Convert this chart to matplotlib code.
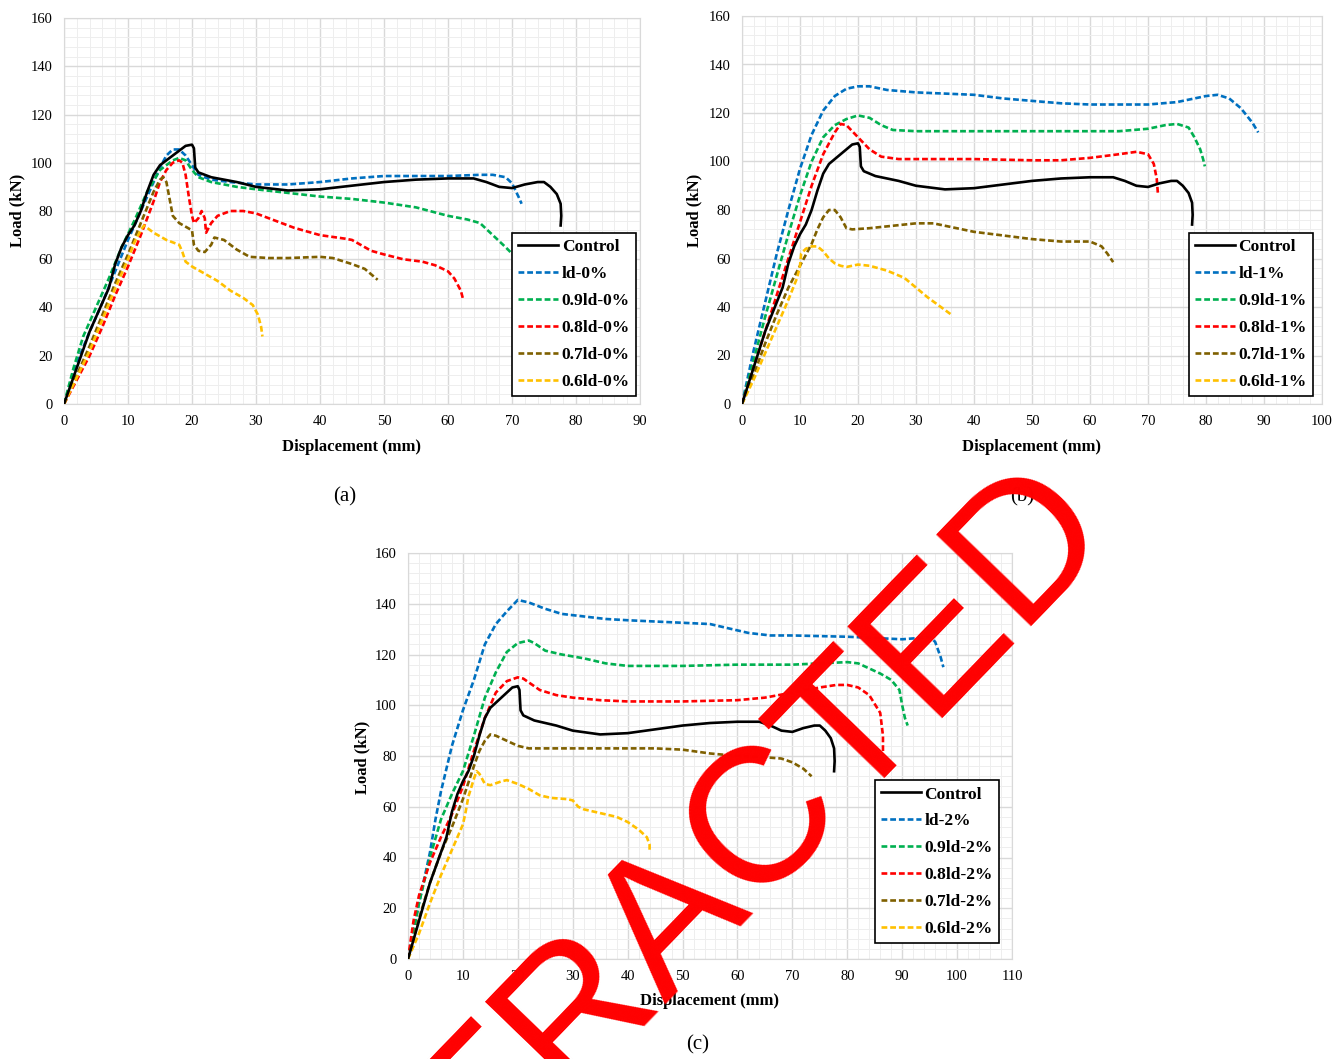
import matplotlib
matplotlib.use("Agg")
import matplotlib.pyplot as plt
from matplotlib.ticker import MultipleLocator

plt.rcParams['font.family'] = ['Liberation Serif', 'DejaVu Serif']

W, H = 1335, 1059

# control beam (same curve in every panel)
control_x = [0, 2, 4, 6, 7, 8, 9, 10, 11, 12, 13, 14, 15, 16, 17, 18, 19, 20, 20.3, 20.5, 21, 23, 27, 30, 35,
             40, 45, 50, 55, 60, 64, 66, 68, 70, 72, 74, 75, 76, 77, 77.6, 77.7, 77.6]
control_y = [0, 15, 30, 42, 48, 58, 65, 70, 74, 80, 88, 95, 99, 101, 103, 105, 107, 107.5, 106, 98, 96, 94, 92, 90, 88.5,
             89, 90.5, 92, 93, 93.5, 93.5, 92, 90, 89.5, 91, 92, 92, 90, 87, 83, 78, 74]

# (a) 0 %
a_ld_x = [0, 2, 4, 6, 8, 10, 12, 14, 15, 16, 17, 18, 19, 20, 21, 23, 26, 30, 35, 40, 45, 50, 55, 60, 65, 67, 69, 70, 71, 71.5]
a_ld_y = [0, 17, 30, 42, 55, 68, 80, 92, 98, 103, 105.5, 105.5, 103, 99, 95, 93, 92, 91, 91, 92, 93.5, 94.5, 94.5, 94.5, 95, 95, 94, 91.5, 86, 83]
a_09_x = [0, 1.5, 3, 5, 7, 9, 11, 13, 15, 17, 18, 19, 20, 21, 23, 27, 30, 35, 40, 45, 50, 55, 60, 63, 65, 67, 69, 70.5]
a_09_y = [0, 15, 28, 40, 52, 65, 76, 88, 97, 101, 102, 101, 97, 94, 92, 90, 89, 87.5, 86, 85, 83.5, 81.5, 78, 76.5, 75, 70, 65, 61]
a_08_x = [0, 2, 4, 6, 8, 10, 12, 14, 15, 16, 17, 18, 18.5, 19, 19.5, 20, 20.3, 21, 21.5, 22, 22.2, 23, 24, 26, 28, 30,
          33, 36, 40, 44, 45, 48, 50, 53, 56, 58, 60, 61, 62, 62.3]
a_08_y = [0, 10, 20, 32, 45, 57, 70, 84, 92, 97, 100, 101, 100, 95, 86, 78, 75, 77, 80, 77, 71, 75, 78, 80, 80, 79,
          76, 73, 70, 68.5, 68, 63.5, 62, 60, 59, 57.5, 55, 52, 47, 44]
a_07_x = [0, 2, 4, 6, 8, 10, 12, 14, 15, 15.5, 16, 16.5, 17, 18, 19, 20, 20.3, 21, 22, 23, 23.5, 25, 27, 29, 32, 35,
          40, 42, 45, 47, 49]
a_07_y = [0, 12, 24, 37, 50, 62, 75, 88, 93, 94, 92, 85, 78, 75, 73.5, 72, 66, 63.5, 63, 66, 69, 68, 64, 61, 60.5, 60.5,
          61, 60.5, 58, 56, 51.5]
a_06_x = [0, 2, 4, 6, 8, 10, 11, 12, 12.5, 14, 16, 18, 18.5, 19, 20, 22, 24, 26, 28, 29.5, 30.3, 30.8, 31]
a_06_y = [0, 11, 22, 35, 48, 60, 67, 72, 74, 71, 68, 66, 63, 59, 57, 54, 51, 47, 44, 41, 37, 32, 28]

# (b) 1 %
b_ld_x = [0, 2, 4, 6, 8, 10, 12, 14, 16, 18, 20, 22, 25, 30, 35, 40, 45, 50, 55, 60, 65, 70, 75, 78, 80, 82, 84, 86, 88, 89]
b_ld_y = [0, 22, 42, 62, 80, 97, 111, 121, 127, 130, 131, 131, 129.5, 128.5, 128, 127.5, 126, 125, 124, 123.5, 123.5,
          123.5, 124.5, 126, 127, 127.5, 126, 122, 116, 112]
b_09_x = [0, 2, 4, 6, 8, 10, 12, 14, 16, 18, 20, 22, 24, 26, 30, 40, 50, 60, 65, 70, 73, 75, 77, 78, 79, 79.5, 79.8]
b_09_y = [0, 18, 36, 53, 70, 86, 100, 110, 115, 117.5, 119, 118, 115, 113, 112.5, 112.5, 112.5, 112.5, 112.5, 113.5,
          115, 115.5, 114, 110, 105, 101, 98]
b_08_x = [0, 2, 4, 6, 8, 10, 12, 14, 16, 17, 18, 20, 22, 24, 27, 30, 40, 50, 55, 60, 65, 68, 70, 71, 71.5, 71.7]
b_08_y = [0, 15, 30, 45, 60, 75, 90, 103, 112, 115.5, 115, 110, 105, 102, 101, 101, 101, 100.5, 100.5, 101.5, 103,
          104, 103, 99, 93, 87]
b_07_x = [0, 2, 4, 6, 8, 10, 12, 13, 14, 15, 16, 17, 18, 19, 22, 26, 30, 33, 37, 40, 45, 50, 55, 60, 62, 63, 64]
b_07_y = [0, 12, 25, 37, 48, 57, 66, 72, 77, 80, 80, 77, 72.5, 72, 72.5, 73.5, 74.5, 74.5, 72.5, 71, 69.5, 68, 67, 67,
          65, 62, 58.5]
b_06_x = [0, 2, 4, 6, 8, 9.5, 10, 10.2, 11, 12, 13, 14, 15, 16, 17, 18, 20, 22, 25, 28, 30, 32, 34, 36]
b_06_y = [0, 10, 21, 32, 43, 52, 57, 62, 64, 65, 65, 63, 60, 58, 57, 56.5, 57.5, 57, 55, 52, 48, 44, 40.5, 37]

# (c) 2 %
c_ld_x = [0, 2, 4, 5, 6, 8, 10, 12, 14, 16, 18, 20, 22, 25, 28, 32, 36, 40, 45, 50, 55, 58, 62, 66, 70, 80, 85, 90,
          93, 95, 96, 97, 97.5]
c_ld_y = [0, 22, 42, 55, 66, 84, 98, 110, 124, 132, 137, 141.5, 140.5, 138, 136, 135, 134, 133.5, 133, 132.5, 132,
          130.5, 128.5, 127.5, 127.5, 127, 126.5, 126, 126.5, 127, 125, 119, 115]
c_09_x = [0, 2, 4, 6, 8, 10, 12, 14, 16, 18, 20, 22, 23, 25, 28, 32, 36, 40, 50, 60, 70, 75, 80, 82, 84, 86, 88, 89.5,
          90, 90.5, 91]
c_09_y = [0, 22, 40, 55, 65, 74, 88, 103, 113, 121, 124.5, 125.5, 124.5, 121.5, 120, 118.5, 116.5, 115.5, 115.5, 116,
          116, 116.5, 117, 116.5, 114.5, 112.5, 110, 106, 100, 95, 92]
c_08_x = [0, 1, 2, 4, 6, 8, 10, 12, 14, 15, 16, 18, 20, 21, 22, 24, 27, 30, 35, 40, 50, 60, 65, 70, 75, 78, 80, 82,
          84, 86, 86.5, 86.5]
c_08_y = [0, 15, 25, 38, 48, 57, 68, 82, 95, 100, 105, 109.5, 111, 110.5, 109, 106, 104, 103, 102, 101.5, 101.5, 102,
          103, 105, 107, 108, 108, 107, 104, 97, 88, 80]
c_07_x = [0, 2, 4, 6, 8, 10, 12, 13, 14, 15, 16, 18, 20, 22, 30, 40, 45, 50, 55, 60, 65, 68, 70, 72, 73.5]
c_07_y = [0, 16, 30, 42, 52, 63, 76, 82, 86, 88.5, 88, 86, 84, 83, 83, 83, 83, 82.5, 81, 80, 79.5, 79, 77.5, 75, 72]
c_06_x = [0, 2, 4, 6, 8, 10, 10.5, 11, 12, 12.5, 13, 14, 15, 17, 18, 20, 22, 24, 26, 29, 30, 31, 32, 35, 38, 40, 42,
          43.5, 44, 44]
c_06_y = [0, 10, 22, 33, 43, 53, 58, 64, 71, 74, 73, 69, 68.5, 70, 70.5, 69, 67, 64.5, 63.5, 63, 62.5, 60, 59, 57.5,
          56, 54, 51, 48, 45, 43]

colors = ['#0070c0', '#00b050', '#ff0000', '#7f6000', '#ffc000']
fractions = ['ld', '0.9ld', '0.8ld', '0.7ld', '0.6ld']


def px_box(left, top, right, bottom):
    return [left / W, 1 - bottom / H, (right - left) / W, (bottom - top) / H]


def draw_panel(fig, box, xmax, series, pct, leg_anchor):
    ax = fig.add_axes(px_box(*box))
    ax.set_xlim(0, xmax)
    ax.set_ylim(0, 160)
    ax.xaxis.set_major_locator(MultipleLocator(10))
    ax.xaxis.set_minor_locator(MultipleLocator(2))
    ax.yaxis.set_major_locator(MultipleLocator(20))
    ax.yaxis.set_minor_locator(MultipleLocator(4))
    ax.grid(which='major', color='#d9d9d9', lw=1.0)
    ax.grid(which='minor', color='#eeeeee', lw=0.7)
    ax.set_axisbelow(True)
    for s in ax.spines.values():
        s.set_color('#d9d9d9')
    ax.tick_params(which='both', length=0, labelsize=10.5, pad=8)

    ax.plot(control_x, control_y, color='black', lw=1.9, label='Control', zorder=4)
    for (xs, ys), c, f in zip(series, colors, fractions):
        ax.plot(xs, ys, color=c, lw=1.9, ls=(0, (2.2, 1.1)), label=f + '-' + pct, zorder=3)

    leg = ax.legend(loc='lower right', bbox_to_anchor=leg_anchor, borderaxespad=0,
                    prop={'weight': 'bold', 'size': 12.5}, handlelength=2.3, handletextpad=0.2,
                    labelspacing=0.62, borderpad=0.35, fancybox=False, framealpha=1)
    leg.get_frame().set_edgecolor('black')
    leg.get_frame().set_linewidth(1.2)
    leg.set_zorder(6)
    return ax


fig = plt.figure(figsize=(W / 100, H / 100), dpi=100)

draw_panel(fig, (64, 18, 640, 404), 90,
           [(a_ld_x, a_ld_y), (a_09_x, a_09_y), (a_08_x, a_08_y), (a_07_x, a_07_y), (a_06_x, a_06_y)],
           '0%', (0.993, 0.021))
draw_panel(fig, (742, 16, 1322, 404), 100,
           [(b_ld_x, b_ld_y), (b_09_x, b_09_y), (b_08_x, b_08_y), (b_07_x, b_07_y), (b_06_x, b_06_y)],
           '1%', (0.984, 0.021))
draw_panel(fig, (408, 553, 1012, 959), 110,
           [(c_ld_x, c_ld_y), (c_09_x, c_09_y), (c_08_x, c_08_y), (c_07_x, c_07_y), (c_06_x, c_06_y)],
           '2%', (0.978, 0.039))


def label(x, y, txt, **kw):
    fig.text(x / W, 1 - y / H, txt, ha='center', va='center', **kw)


label(352, 447, 'Displacement (mm)', fontsize=12, weight='bold')
label(1032, 447, 'Displacement (mm)', fontsize=12, weight='bold')
label(710, 1001, 'Displacement (mm)', fontsize=12, weight='bold')
label(17, 210, 'Load (kN)', fontsize=12, weight='bold', rotation=90)
label(694, 210, 'Load (kN)', fontsize=12, weight='bold', rotation=90)
label(362, 757, 'Load (kN)', fontsize=12, weight='bold', rotation=90)
label(345, 497, '(a)', fontsize=15)
label(1022, 497, '(b)', fontsize=15)
label(698, 1045, '(c)', fontsize=15)

# retraction stamp across the lower panel
fig.text(670 / W, 1 - 913 / H, 'RETRACTED', color='red', fontsize=138, family='Liberation Sans',
         rotation=46, rotation_mode='anchor', ha='center', va='center', zorder=20)

fig.savefig('out.png', dpi=100)
